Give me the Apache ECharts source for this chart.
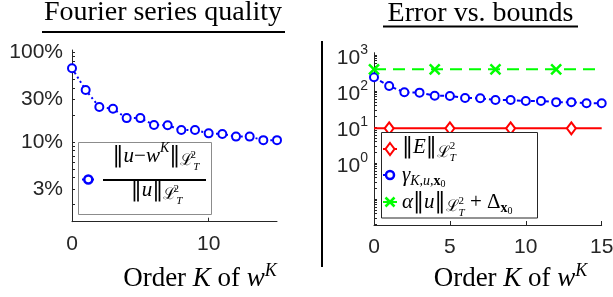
<!DOCTYPE html>
<html>
<head>
<meta charset="utf-8">
<script src="https://cdn.jsdelivr.net/npm/echarts@6/dist/echarts.min.js"></script>
<style>
  html, body { margin: 0; padding: 0; background: #fff; }
  #chart { width: 613px; height: 297px; }
</style>
</head>
<body>
<div id="chart"></div>
<script>
// order K of the Fourier approximation
const orders = [0, 1, 2, 3, 4, 5, 6, 7, 8, 9, 10, 11, 12, 13, 14, 15]
// left panel: relative L2 error of w^K
const relErr = [0.666, 0.381, 0.246, 0.235, 0.185, 0.185, 0.155, 0.154, 0.136, 0.136, 0.125, 0.123, 0.115, 0.115, 0.105, 0.105]
// right panel
const errNorm = [9.2, 9.2, 9.2, 9.2, 9.2, 9.2, 9.2, 9.2, 9.2, 9.2, 9.2, 9.2, 9.2, 9.2, 9.2, 9.2]
const gammaBound = [240, 138, 92, 90, 74, 73, 64, 63, 56, 56, 53, 53, 49, 49, 45.5, 45.5]
const alphaBound = [401, 401, 401, 401, 401, 401, 401, 401, 401, 401, 401, 401, 401, 401, 401, 401]
const errMarks = [1, 5, 9, 13]
const alphaMarks = [0, 4, 8, 12]
// tick labels
const leftXTicks = [0, 10]
const rightXTicks = [0, 5, 10, 15]
const pctTicks = [0.03, 0.1, 0.3, 1]
const powTicks = [1, 10, 100, 1000]

const ink = '#262626'
const blue = '#0000ff'
const red = '#ff0000'
const green = '#00ff00'
const sans = 'Liberation Sans'
const serif = 'Liberation Serif'

function logTicks(lo, hi) {
  const out = []
  for (let e = -3; e <= 3; e++) {
    for (let m = 1; m <= 9; m++) {
      const v = m * Math.pow(10, e)
      if (v >= lo && v <= hi) out.push(v)
    }
  }
  return out
}

function xAxis(gridIndex, ticks) {
  return {
    type: 'value', gridIndex, min: 0, max: 15,
    axisLine: { show: true, lineStyle: { color: ink, width: 1 } },
    axisTick: { show: true, inside: true, length: 4, customValues: ticks, lineStyle: { color: ink } },
    axisLabel: { customValues: ticks, color: ink, fontFamily: sans, fontSize: 21, margin: 12 },
    splitLine: { show: false }
  }
}

// rich-text pieces for the math in legends (dy < 0 moves up)
function piece(size, dy, italic, bold, extra) {
  const p = Math.abs(dy) * 2
  return Object.assign({
    fontFamily: serif, fontSize: size, lineHeight: size, color: '#000',
    fontStyle: italic ? 'italic' : 'normal', fontWeight: bold ? 'bold' : 'normal',
    padding: dy < 0 ? [0, 0, p, 0] : [p, 0, 0, 0]
  }, extra || {})
}
const mathRich = {
  r: piece(21, 0), i: piece(21, 0, true),
  n: piece(22, 0, false, false, { fontFamily: 'DejaVu Serif' }),
  sp: piece(14, -8, true),
  L: piece(16, 5),
  L2: piece(11, -1, false, false, { width: 0.01 }),
  LT: piece(11, 11, true),
  sb: piece(14, 6, true),
  sbx: piece(14, 6, false, true),
  sb0: piece(10, 9)
}
const normL = '{L|ℒ}{L2|2}{LT|T}'

function mathText(str, x, y, align) {
  return {
    type: 'text', z: 101,
    style: { text: str, x, y, align: align || 'left', verticalAlign: 'middle', rich: mathRich }
  }
}

const chart = echarts.init(document.getElementById('chart'))
chart.setOption({
  animation: false,
  grid: [
    { left: 72, top: 50, width: 205, height: 171.7, outerBoundsMode: 'none' },
    { left: 374, top: 52.7, width: 227.7, height: 172.3, outerBoundsMode: 'none' }
  ],
  xAxis: [xAxis(0, leftXTicks), xAxis(1, rightXTicks)],
  yAxis: [
    {
      type: 'log', logBase: 10, gridIndex: 0, min: 0.0129, max: 1.066,
      axisLine: { show: true, lineStyle: { color: ink, width: 1 } },
      axisTick: { show: true, inside: true, length: 3, customValues: logTicks(0.0129, 1.066), lineStyle: { color: ink } },
      axisLabel: {
        customValues: pctTicks, color: ink, fontFamily: sans, fontSize: 21, margin: 9,
        formatter: v => Math.round(v * 100) + '%'
      },
      splitLine: { show: false }
    },
    {
      type: 'log', logBase: 10, gridIndex: 1, min: 0.019, max: 1158,
      axisLine: { show: true, lineStyle: { color: ink, width: 1 } },
      axisTick: { show: true, inside: true, length: 3, customValues: logTicks(0.019, 1158), lineStyle: { color: ink } },
      axisLabel: {
        customValues: powTicks, margin: 6,
        formatter: v => '{b|10}{s|' + Math.round(Math.log10(v)) + '}',
        rich: {
          b: { color: ink, fontFamily: sans, fontSize: 21, padding: [6, 0, 0, 0] },
          s: { color: ink, fontFamily: sans, fontSize: 14, padding: [0, 0, 9, 0] }
        }
      },
      splitLine: { show: false }
    }
  ],
  series: [
    {
      type: 'line', xAxisIndex: 0, yAxisIndex: 0,
      data: orders.map((k, i) => [k, relErr[i]]),
      symbol: 'emptyCircle', symbolSize: 8, showAllSymbol: true,
      lineStyle: { color: blue, width: 2, type: [2, 3] },
      itemStyle: { color: blue, borderWidth: 2.5 }
    },
    {
      type: 'line', xAxisIndex: 1, yAxisIndex: 1,
      data: orders.map((k, i) => ({ value: [k, errNorm[i]], symbol: errMarks.includes(i) ? 'emptyDiamond' : 'none' })),
      symbolSize: [9, 12], showAllSymbol: true,
      lineStyle: { color: red, width: 2 },
      itemStyle: { color: red, borderWidth: 2 }
    },
    {
      type: 'line', xAxisIndex: 1, yAxisIndex: 1,
      data: orders.map((k, i) => [k, gammaBound[i]]),
      symbol: 'emptyCircle', symbolSize: 8, showAllSymbol: true,
      lineStyle: { color: blue, width: 2, type: [4, 3] },
      itemStyle: { color: blue, borderWidth: 2.5 }
    },
    {
      type: 'line', xAxisIndex: 1, yAxisIndex: 1,
      data: orders.map((k, i) => ({ value: [k, alphaBound[i]], symbol: alphaMarks.includes(i) ? 'path://M0,0L10,10M10,0L0,10' : 'none' })),
      symbolSize: 10, showAllSymbol: true,
      lineStyle: { color: green, width: 2, type: [12, 7] },
      itemStyle: { color: green, borderColor: green, borderWidth: 2.5 }
    }
  ],
  graphic: [
    // titles
    { type: 'text', style: { text: 'Fourier series quality', x: 163, y: 13, align: 'center', verticalAlign: 'middle', font: '28px "Liberation Serif"', fill: '#000' } },
    { type: 'rect', shape: { x: 42, y: 31, width: 243, height: 2 }, style: { fill: '#000' } },
    { type: 'text', style: { text: 'Error vs. bounds', x: 480.5, y: 13.5, align: 'center', verticalAlign: 'middle', font: '28px "Liberation Serif"', fill: '#000' } },
    { type: 'rect', shape: { x: 383, y: 25.5, width: 195, height: 2 }, style: { fill: '#000' } },
    // separator
    { type: 'line', shape: { x1: 322, y1: 41, x2: 322, y2: 267 }, style: { stroke: '#000', lineWidth: 2 } },
    // x axis titles
    {
      type: 'text', style: {
        text: '{r|Order }{i|K}{r| of }{i|w}{s|K}', x: 200, y: 279, align: 'center', verticalAlign: 'middle',
        rich: { r: piece(27, 0), i: piece(27, 0, true), s: piece(18, -8, true) }
      }
    },
    {
      type: 'text', style: {
        text: '{r|Order }{i|K}{r| of }{i|w}{s|K}', x: 510.5, y: 279, align: 'center', verticalAlign: 'middle',
        rich: { r: piece(27, 0), i: piece(27, 0, true), s: piece(18, -8, true) }
      }
    },
    // left legend
    { type: 'rect', z: 100, shape: { x: 78.5, y: 142.5, width: 133, height: 72 }, style: { fill: '#fff', stroke: '#8c8c8c', lineWidth: 1 } },
    { type: 'line', z: 101, shape: { x1: 82, y1: 179.5, x2: 95, y2: 179.5 }, style: { stroke: blue, lineWidth: 2, lineDash: [2, 3] } },
    { type: 'circle', z: 102, shape: { cx: 88.3, cy: 179.5, r: 4 }, style: { fill: '#fff', stroke: blue, lineWidth: 2.5 } },
    { type: 'line', z: 101, shape: { x1: 103, y1: 180, x2: 206, y2: 180 }, style: { stroke: '#000', lineWidth: 2 } },
    mathText('{n|‖}{i|u}{r|−}{i|w}{sp|K}{n|‖}' + normL, 156, 156, 'center'),
    mathText('{n|‖}{i|u}{n|‖}' + normL, 156.5, 190, 'center'),
    // right legend
    { type: 'rect', z: 100, shape: { x: 381.5, y: 132.5, width: 156, height: 85.5 }, style: { fill: '#fff', stroke: ink, lineWidth: 1 } },
    { type: 'line', z: 101, shape: { x1: 383, y1: 149, x2: 397, y2: 149 }, style: { stroke: red, lineWidth: 2 } },
    { type: 'polygon', z: 102, shape: { points: [[390, 143], [394.5, 149], [390, 155], [385.5, 149]] }, style: { fill: '#fff', stroke: red, lineWidth: 2 } },
    { type: 'line', z: 101, shape: { x1: 383, y1: 175, x2: 397, y2: 175 }, style: { stroke: blue, lineWidth: 2, lineDash: [4, 3] } },
    { type: 'circle', z: 102, shape: { cx: 390, cy: 175, r: 4 }, style: { fill: '#fff', stroke: blue, lineWidth: 2.5 } },
    { type: 'line', z: 101, shape: { x1: 383, y1: 202, x2: 397, y2: 202 }, style: { stroke: green, lineWidth: 2 } },
    { type: 'line', z: 102, shape: { x1: 385.5, y1: 197.5, x2: 394.5, y2: 206.5 }, style: { stroke: green, lineWidth: 2.5 } },
    { type: 'line', z: 102, shape: { x1: 394.5, y1: 197.5, x2: 385.5, y2: 206.5 }, style: { stroke: green, lineWidth: 2.5 } },
    mathText('{n|‖}{i|E}{n|‖}' + normL, 402, 147.5),
    mathText('{i|γ}{sb|K,u,}{sbx|x}{sb0|0}', 402, 175),
    mathText('{i|α}{n|‖}{i|u}{n|‖}' + normL + '{r| + Δ}{sbx|x}{sb0|0}', 402, 202)
  ]
})
</script>
</body>
</html>
